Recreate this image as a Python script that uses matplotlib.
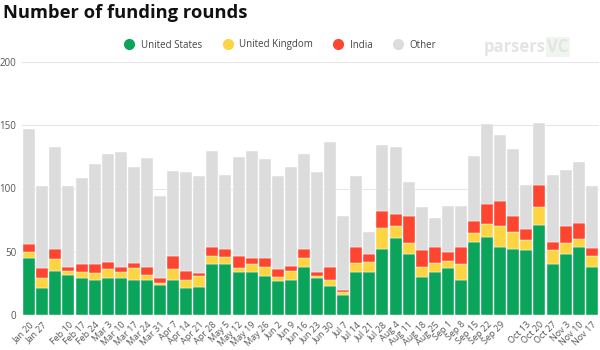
import numpy as np
import matplotlib
matplotlib.use("Agg")
import matplotlib.pyplot as plt
from matplotlib.lines import Line2D

weeks = ["Jan 20", "Jan 27", "Feb 3", "Feb 10", "Feb 17", "Feb 24", "Mar 3", "Mar 10",
         "Mar 17", "Mar 24", "Mar 31", "Apr 7", "Apr 14", "Apr 21", "Apr 28", "May 5",
         "May 12", "May 19", "May 26", "Jun 2", "Jun 9", "Jun 16", "Jun 23", "Jun 30",
         "Jul 7", "Jul 14", "Jul 21", "Jul 28", "Aug 4", "Aug 11", "Aug 18", "Aug 25",
         "Sep 1", "Sep 8", "Sep 15", "Sep 22", "Sep 29", "Oct 6", "Oct 13", "Oct 20",
         "Oct 27", "Nov 3", "Nov 10", "Nov 17"]
# labels the original chart dropped
hidden = ["Feb 3", "Oct 6"]

us = [45, 21, 35, 32, 29, 28, 29, 29, 28, 28, 24, 28, 21, 22, 40, 40, 34, 34, 31, 27, 28, 38,
      29, 23, 16, 34, 34, 52, 61, 48, 30, 34, 37, 28, 58, 62, 54, 52, 51, 71, 40, 48, 54, 38]
uk = [5, 8, 9, 3, 5, 5, 7, 5, 9, 4, 1, 8, 7, 9, 7, 6, 3, 6, 7, 3, 7, 7,
      2, 5, 2, 7, 8, 17, 9, 9, 8, 7, 6, 12, 7, 10, 16, 14, 8, 14, 11, 9, 6, 9]
india = [6, 8, 8, 3, 6, 7, 6, 4, 4, 6, 4, 11, 7, 2, 7, 6, 10, 5, 7, 6, 4, 7,
         3, 10, 2, 13, 6, 13, 10, 21, 13, 13, 7, 14, 9, 16, 20, 12, 9, 18, 7, 13, 13, 6]
other = [91, 65, 81, 64, 68, 79, 85, 91, 76, 86, 65, 67, 78, 77, 76, 59, 78, 85, 78, 74, 78, 75,
         79, 99, 58, 56, 18, 52, 53, 27, 34, 23, 36, 32, 52, 63, 52, 53, 35, 49, 53, 45, 48, 49]

series = ["United States", "United Kingdom", "India", "Other"]
colors = ["#0aa55a", "#fdd543", "#fd4530", "#dcdcdc"]

plt.rcParams['font.family'] = ['Open Sans', 'DejaVu Sans']

fig = plt.figure(figsize=(6, 3.5), dpi=100)
ax = fig.add_axes([22/600, 35/350, 577/600, 253/350])

x = np.arange(len(weeks))
bottom = np.zeros(len(weeks))
for vals, c in zip([us, uk, india, other], colors):
    ax.bar(x, vals, 0.92, bottom=bottom, color=c, edgecolor="white", linewidth=0.3, zorder=3)
    bottom += np.array(vals)

ax.set_ylim(0, 200)
ax.set_xlim(-0.55, len(weeks) - 0.45)
ax.set_yticks([0, 50, 100, 150, 200])
ax.grid(axis="y", color="#e6e6e6", linewidth=0.8, zorder=0)
for s in ax.spines.values():
    s.set_visible(False)
ax.tick_params(axis="both", length=0, colors="#555555", labelsize=7)
ax.tick_params(axis="y", pad=4)
ax.set_xticks(x)
ax.set_xticklabels(["" if w in hidden else w for w in weeks], rotation=45,
                   ha="right", rotation_mode="anchor", fontsize=6.5)

fig.text(0.005, 0.962, "Number of funding rounds", fontsize=13.2, fontweight="bold",
         va="center", ha="left", color="#111111")

handles = [Line2D([], [], marker="o", linestyle="", markersize=7, color=c) for c in colors]
fig.legend(handles, series, loc="center", bbox_to_anchor=(278/600, 1 - 45/350), ncol=4,
           frameon=False, fontsize=7, labelcolor="#444444", handletextpad=0.2,
           columnspacing=1.6)

# faint watermark
fig.text(0.91, 1 - 47/350, "parsers", fontsize=12, color="#e4e4e4", ha="right",
         va="center", fontweight="bold")
fig.text(0.912, 1 - 47/350, "VC", fontsize=12, color="#e4e4e4", ha="left", va="center",
         fontweight="bold", bbox=dict(facecolor="#eef6ee", edgecolor="none", pad=1))

fig.savefig("out.png", dpi=100)
